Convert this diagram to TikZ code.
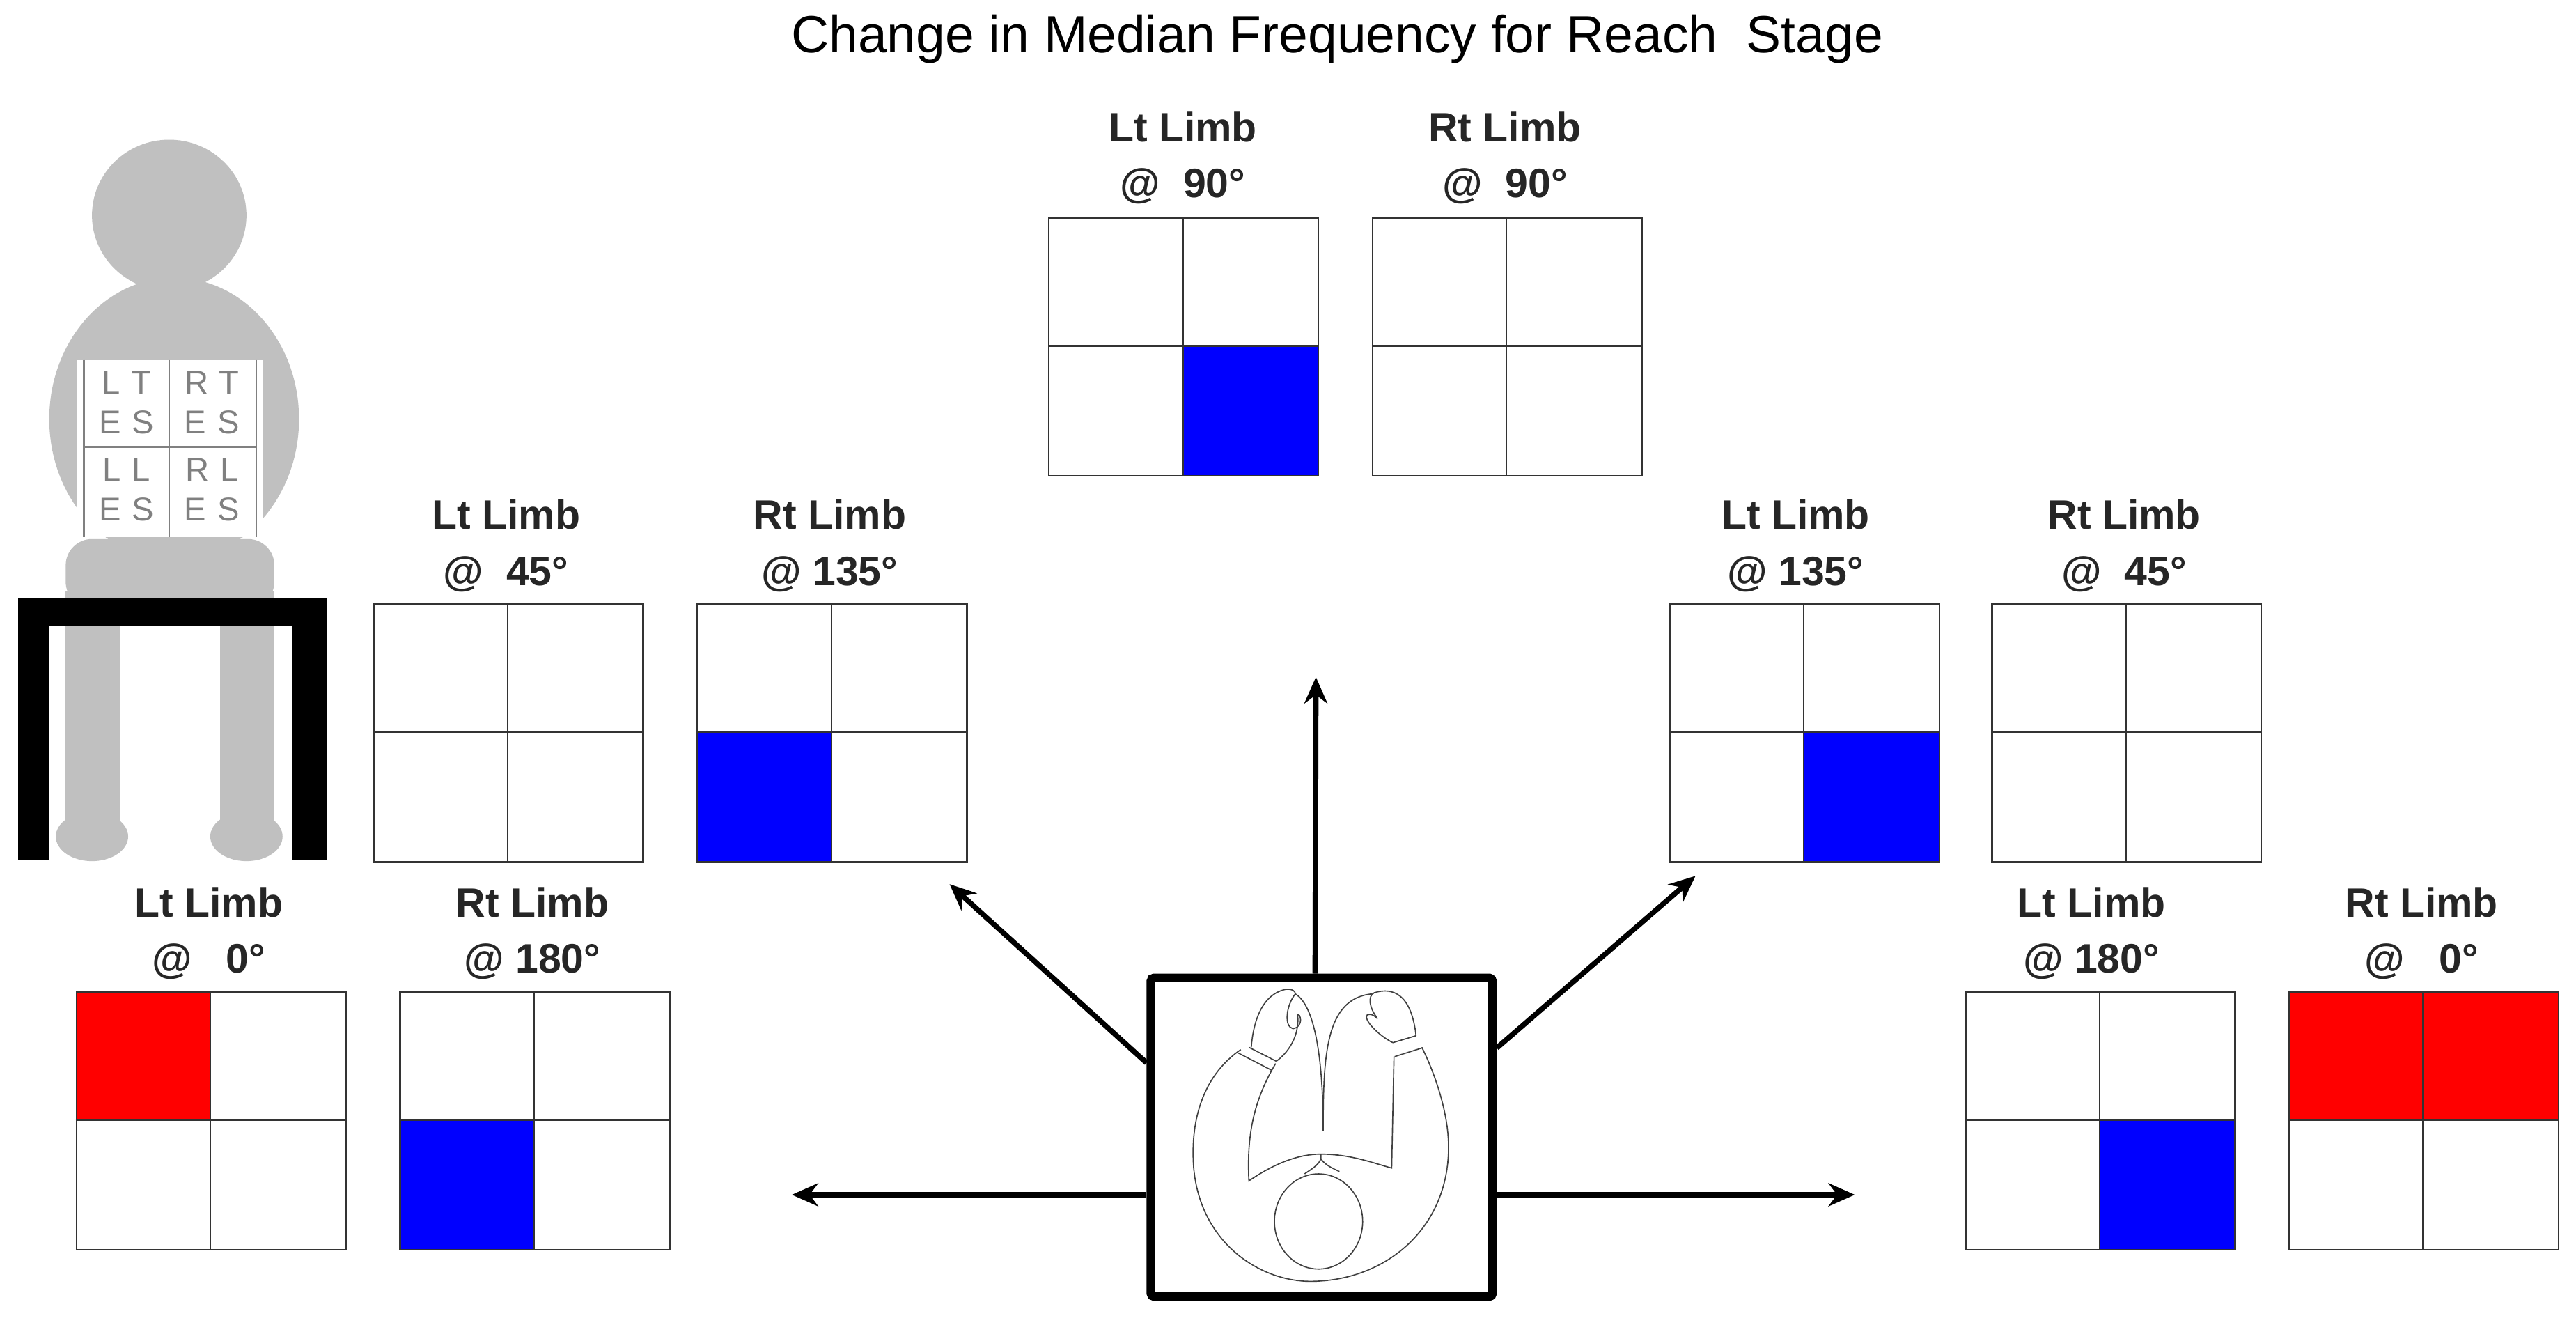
\documentclass[tikz,border=0pt]{standalone}
\usepackage{fontspec}
\setmainfont{Liberation Sans}
\usetikzlibrary{arrows.meta}
\definecolor{pgray}{RGB}{192,192,192}
\definecolor{lgray}{RGB}{128,128,128}
\definecolor{qblue}{RGB}{0,0,255}
\definecolor{qred}{RGB}{255,0,0}
\tikzset{
  cell/.style={draw=black!80, line width=0.5pt},
  lbl/.style={font=\fontsize{12.5}{17}\selectfont\bfseries, align=center, text=black!85},
  arr/.style={line width=1.6pt, -{Stealth[length=8pt,width=7pt]}},
  fig/.style={line width=0.35pt, draw=black!75},
}
% \Grid{name}{left x}{top y}{TL}{TR}{BL}{BR}
\newcommand\Grid[7]{%
  \fill[#4] (#2,#3) rectangle ++(82,78.5);
  \fill[#5] (#2+82,#3) rectangle ++(82,78.5);
  \fill[#6] (#2,#3+78.5) rectangle ++(82,78.5);
  \fill[#7] (#2+82,#3+78.5) rectangle ++(82,78.5);
  \node[cell, minimum width=82pt, minimum height=78.5pt, inner sep=0pt, anchor=north west] (#1) at (#2,#3) {};
  \draw[cell] (#2+82,#3) -- (#2+82,#3+157);
  \draw[cell] (#2,#3+78.5) -- (#2+164,#3+78.5);
}
\begin{document}
\begin{tikzpicture}[x=0.5pt,y=-0.5pt]
\useasboundingbox (0,0) rectangle (1568,806);
\fill[white] (0,0) rectangle (1568,806);
\node[font=\fontsize{15.9}{19}\selectfont] (title) at (814,24) {Change in Median Frequency for Reach\ \ Stage};

% person
\fill[pgray] (103,131) ellipse (47 and 46);
\fill[pgray] (106,255) ellipse (76 and 86);
\fill[pgray, rounded corners=8pt] (40,328) rectangle (167,370);
\fill[pgray] (40,360) rectangle (73,505);
\fill[pgray] (134,360) rectangle (167,505);
\fill[pgray] (56,509) ellipse (22 and 15);
\fill[pgray] (150,509) ellipse (22 and 15);
\fill[white] (47,219) rectangle (160,327);
\draw[lgray, line width=0.6pt] (51,219) -- (51,327) (156,219) -- (156,327) (103,219) -- (103,327) (51,272) -- (156,272);
\begin{scope}[every node/.style={font=\fontsize{10}{12}\selectfont, text=lgray, align=center}]
\node (c1) at (77,245) {L\,\,T\\E\,\,S};
\node (c2) at (129,245) {R\,\,T\\E\,\,S};
\node (c3) at (77,298) {L\,\,L\\E\,\,S};
\node (c4) at (129,298) {R\,\,L\\E\,\,S};
\end{scope}
% chair
\fill[black] (11,364) rectangle (199,381);
\fill[black] (11,364) rectangle (30,523);
\fill[black] (178,364) rectangle (199,523);

% grids
\Grid{g90l}{638}{132}{white}{white}{white}{qblue}
\Grid{g90r}{835}{132}{white}{white}{white}{white}
\Grid{g45l}{227}{367}{white}{white}{white}{white}
\Grid{g135r}{424}{367}{white}{white}{qblue}{white}
\Grid{g135l}{1016}{367}{white}{white}{white}{qblue}
\Grid{g45r}{1212}{367}{white}{white}{white}{white}
\Grid{g0l}{46}{603}{qred}{white}{white}{white}
\Grid{g180r}{243}{603}{white}{white}{qblue}{white}
\Grid{g180l}{1196}{603}{white}{white}{white}{qblue}
\Grid{g0r}{1393}{603}{qred}{qred}{white}{white}

% labels
\node[lbl] (l1) at (720,96) {Lt Limb\\@\ \ 90°};
\node[lbl] (l2) at (916,96) {Rt Limb\\@\ \ 90°};
\node[lbl] (l3) at (308,332) {Lt Limb\\@\ \ 45°};
\node[lbl] (l4) at (505,332) {Rt Limb\\@ 135°};
\node[lbl] (l5) at (1093,332) {Lt Limb\\@ 135°};
\node[lbl] (l6) at (1293,332) {Rt Limb\\@\ \ 45°};
\node[lbl] (l7) at (127,568) {Lt Limb\\@\ \ \ 0°};
\node[lbl] (l8) at (324,568) {Rt Limb\\@ 180°};
\node[lbl] (l9) at (1273,568) {Lt Limb\\@ 180°};
\node[lbl] (l10) at (1474,568) {Rt Limb\\@\ \ \ 0°};

% center box
\node[draw, line width=2.6pt, rounded corners=1pt, minimum width=104pt, minimum height=97pt, inner sep=0pt] (box) at (804.5,692) {};
\begin{scope}[shift={(695.2,585)}, scale=0.1413, fig]
\draw (425,380) .. controls (250,500) and (215,700) .. (220,850)
  .. controls (230,1200) and (500,1380) .. (730,1378)
  .. controls (1050,1375) and (1320,1150) .. (1320,800)
  .. controls (1320,650) and (1260,480) .. (1205,370);
\draw (575,440) .. controls (480,600) and (450,750) .. (460,945)
  .. controls (600,850) and (700,830) .. (770,830)
  .. controls (900,830) and (1000,870) .. (1075,890) -- (1085,410);
\draw (415,395) -- (560,470);
\draw (460,370) -- (578,430);
\draw (1088,410) -- (1208,372);
\draw (1080,350) -- (1180,320);
\draw (470,370) .. controls (480,250) and (520,140) .. (620,120)
  .. controls (650,118) and (660,130) .. (660,140)
  .. controls (620,190) and (610,280) .. (650,290)
  .. controls (700,280) and (680,220) .. (670,230)
  .. controls (680,330) and (620,400) .. (578,430);
\draw (1080,350) .. controls (1020,320) and (950,250) .. (970,230)
  .. controls (1000,220) and (1020,260) .. (1010,240)
  .. controls (980,200) and (970,150) .. (1000,135)
  .. controls (1080,110) and (1160,140) .. (1180,320);
\draw (660,140) .. controls (760,200) and (780,500) .. (780,730);
\draw (780,730) .. controls (780,400) and (790,160) .. (990,140);
\draw (770,830) -- (770,850) .. controls (760,880) and (720,900) .. (700,915);
\draw (770,850) .. controls (790,880) and (830,895) .. (850,905);
\draw (760,1120) ellipse (190 and 205);
\end{scope}

% arrows
\coordinate (aU) at (801,412);
\coordinate (aUL) at (578,538);
\coordinate (aUR) at (1032,533);
\coordinate (aL) at (482,727);
\coordinate (aR) at (1129,727);
\draw[arr] ([xshift=-2pt]box.north) -- (aU);
\draw[arr] (box.157) -- (aUL);
\draw[arr] (box.27) -- (aUR);
\draw[arr] (box.west |- aL) -- (aL);
\draw[arr] (box.east |- aR) -- (aR);
\end{tikzpicture}
\end{document}
